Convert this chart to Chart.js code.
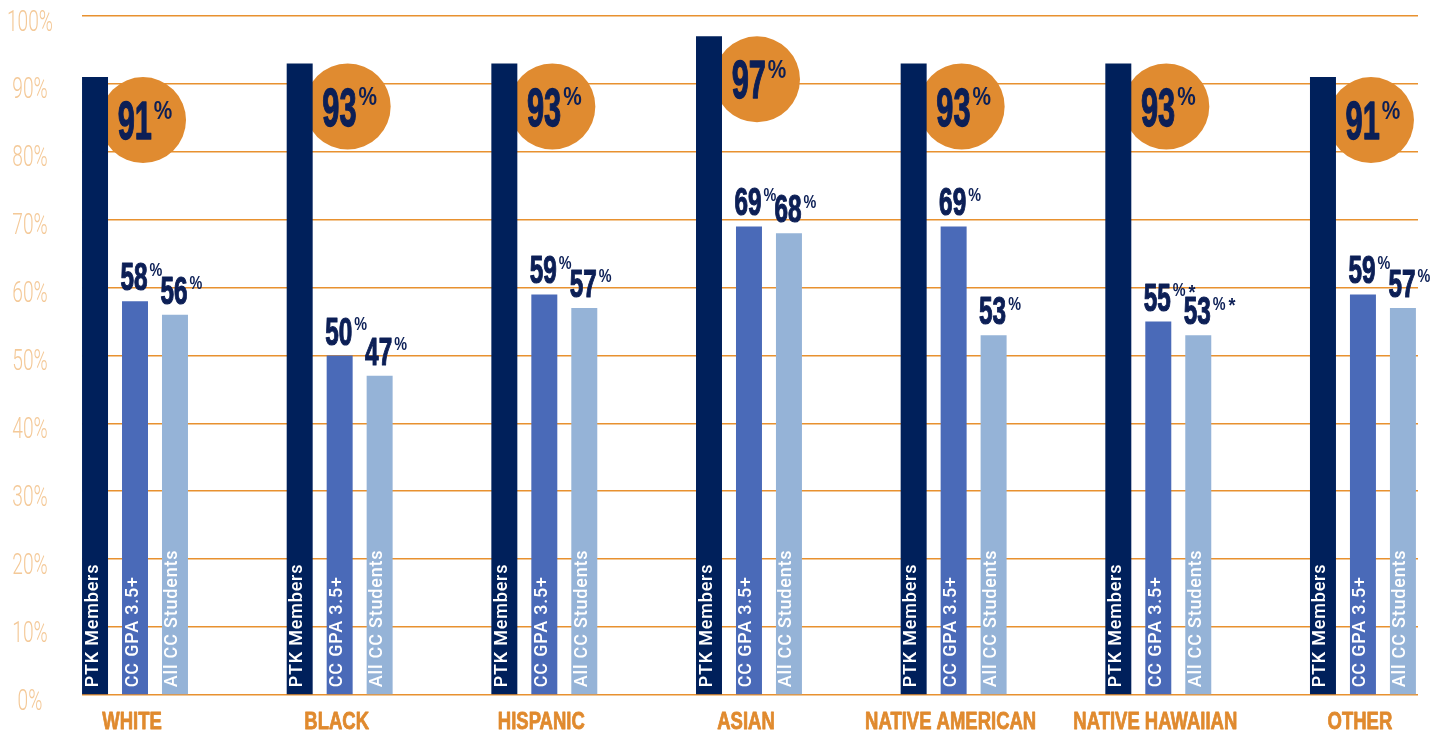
<!DOCTYPE html>
<html>
<head>
<meta charset="utf-8">
<script src="https://cdn.jsdelivr.net/npm/chart.js@4.4.0/dist/chart.umd.min.js"></script>
<style>
  html, body { margin: 0; padding: 0; background: #fff; }
  #wrap { width: 1455px; height: 733px; position: relative; }
</style>
</head>
<body>
<div id="wrap"><canvas id="chart"></canvas></div>
<script>
// Dados
const categories = ['WHITE', 'BLACK', 'HISPANIC', 'ASIAN', 'NATIVE AMERICAN', 'NATIVE HAWAIIAN', 'OTHER'];
const seriesNames = ['PTK Members', 'CC GPA 3.5+', 'All CC Students'];
const ptkMembers = [91, 93, 93, 97, 93, 93, 91];
const ccGpa = [58, 50, 59, 69, 69, 55, 59];
const allCcStudents = [56, 47, 57, 68, 53, 53, 57];
const footnotes = ['', '', '', '', '', '*', ''];
const yTickValues = [0, 10, 20, 30, 40, 50, 60, 70, 80, 90, 100];

const NAVY_TEXT = '#0c1f56';
const ORANGE = '#e08b30';
const BOLD = '"Liberation Sans", Arial, sans-serif';

function drawSquished(ctx, text, x, y, font, sx, stroke) {
    ctx.save();
    ctx.font = font;
    ctx.translate(x, y);
    ctx.scale(sx, 1);
    ctx.fillText(text, 0, 0);
    if (stroke) {
        ctx.strokeStyle = ctx.fillStyle;
        ctx.lineWidth = stroke;
        ctx.lineJoin = 'round';
        ctx.strokeText(text, 0, 0);
    }
    ctx.restore();
}

function textWidth(ctx, text, font, sx) {
    ctx.save();
    ctx.font = font;
    const w = ctx.measureText(text).width * sx;
    ctx.restore();
    return w;
}

const labelsPlugin = {
    id: 'labels',
    // círculos laranja com o valor PTK (atrás das barras)
    beforeDatasetsDraw(chart) {
        const ctx = chart.ctx;
        chart.getDatasetMeta(0).data.forEach((bar, i) => {
            const cx = bar.x + bar.width / 2 + 35;
            const cy = bar.y + 43;
            ctx.save();
            ctx.fillStyle = ORANGE;
            ctx.beginPath();
            ctx.arc(cx, cy, 43, 0, Math.PI * 2);
            ctx.fill();
            ctx.fillStyle = NAVY_TEXT;
            ctx.textAlign = 'left';
            ctx.textBaseline = 'alphabetic';
            const num = String(ptkMembers[i]);
            const fBig = 'bold 53px ' + BOLD;
            const fPct = 'bold 26px ' + BOLD;
            const wNum = textWidth(ctx, num, fBig, 0.58);
            const wPct = textWidth(ctx, '%', fPct, 0.8);
            const x0 = cx + 2 - (wNum + 2 + wPct) / 2;
            drawSquished(ctx, num, x0, cy + 19, fBig, 0.58, 1.4);
            drawSquished(ctx, '%', x0 + wNum + 2, cy - 1.5, fPct, 0.8);
            ctx.restore();
        });
    },
    afterDatasetsDraw(chart) {
        const ctx = chart.ctx;
        // nomes das séries dentro das barras
        chart.data.datasets.forEach((ds, d) => {
            chart.getDatasetMeta(d).data.forEach(bar => {
                ctx.save();
                ctx.translate(bar.x, bar.base - 7);
                ctx.rotate(-Math.PI / 2);
                ctx.font = '500 18px Roboto, ' + BOLD;
                ctx.letterSpacing = '0.8px';
                ctx.fillStyle = '#ffffff';
                ctx.textAlign = 'left';
                ctx.textBaseline = 'middle';
                ctx.fillText(seriesNames[d], 0, -2);
                ctx.restore();
            });
        });
        // valores acima das barras 2 e 3
        [ccGpa, allCcStudents].forEach((values, k) => {
            chart.getDatasetMeta(k + 1).data.forEach((bar, i) => {
                const num = String(values[i]);
                const fNum = 'bold 38px ' + BOLD;
                const fPct = 'bold 18px ' + BOLD;
                const wNum = textWidth(ctx, num, fNum, 0.64);
                const wPct = textWidth(ctx, '%', fPct, 0.8);
                const base = bar.y - 11;
                const top = base - 27;
                const x0 = bar.x - 1 - wNum / 2;
                ctx.save();
                ctx.fillStyle = NAVY_TEXT;
                ctx.textAlign = 'left';
                ctx.textBaseline = 'alphabetic';
                drawSquished(ctx, num, x0, base, fNum, 0.64, 1.2);
                drawSquished(ctx, '%', x0 + wNum + 2, top + 12.5, fPct, 0.8);
                if (footnotes[i]) {
                    drawSquished(ctx, footnotes[i], x0 + wNum + 5 + wPct, top + 15, 'bold 20px ' + BOLD, 0.9);
                }
                ctx.restore();
            });
        });
    },
    // rótulos dos eixos, tirados dos ticks das escalas
    afterDraw(chart) {
        const ctx = chart.ctx;
        const xs = chart.scales.x;
        const ys = chart.scales.y;
        ctx.save();
        ctx.textAlign = 'left';
        ctx.textBaseline = 'alphabetic';
        ctx.fillStyle = '#e08a2e';
        const fx = 'bold 24px ' + BOLD;
        xs.ticks.forEach((t, i) => {
            const w = textWidth(ctx, t.label, fx, 0.77);
            drawSquished(ctx, t.label, xs.getPixelForTick(i) - 3 - w / 2, xs.top + 34, fx, 0.77, 0.8);
        });
        ctx.fillStyle = '#f4c998';
        const fy = '300 29px Roboto, ' + BOLD;
        ys.ticks.forEach((t, i) => {
            const w = textWidth(ctx, t.label, fy, 0.66);
            drawSquished(ctx, t.label, 30 - w / 2, ys.getPixelForTick(i) + 14.5, fy, 0.66);
        });
        ctx.restore();
    }
};

const ctx = document.getElementById('chart').getContext('2d');
const chart = new Chart(ctx, {
    type: 'bar',
    data: {
        datasets: [
            { label: seriesNames[0], data: ptkMembers.map((v, i) => ({ x: i, y: v })), backgroundColor: '#00205b' },
            { label: seriesNames[1], data: ccGpa.map((v, i) => ({ x: i, y: v })), backgroundColor: '#4a6ab8' },
            { label: seriesNames[2], data: allCcStudents.map((v, i) => ({ x: i, y: v })), backgroundColor: '#95b3d7' }
        ]
    },
    options: {
        responsive: true,
        maintainAspectRatio: false,
        animation: false,
        categoryPercentage: 0.586,
        barPercentage: 0.65,
        layout: { padding: { top: 16, right: 37, left: 0, bottom: 0 } },
        plugins: {
            legend: { display: false },
            tooltip: { enabled: false }
        },
        scales: {
            x: {
                type: 'linear',
                offset: false,
                min: -0.259,
                max: 6.269,
                grid: { display: false },
                border: { display: false },
                afterBuildTicks: axis => { axis.ticks = categories.map((c, i) => ({ value: i })); },
                afterFit: axis => { axis.height = 38; },
                ticks: {
                    display: false,
                    autoSkip: false,
                    callback: v => categories[v]
                }
            },
            y: {
                min: 0,
                max: 100,
                afterBuildTicks: axis => { axis.ticks = yTickValues.map(v => ({ value: v })); },
                afterFit: axis => { axis.width = 82; },
                grid: { color: '#e8912f', lineWidth: 1.6, drawTicks: false },
                border: { display: false },
                ticks: {
                    display: false,
                    callback: v => v + '%'
                }
            }
        }
    },
    plugins: [labelsPlugin]
});
</script>
</body>
</html>
